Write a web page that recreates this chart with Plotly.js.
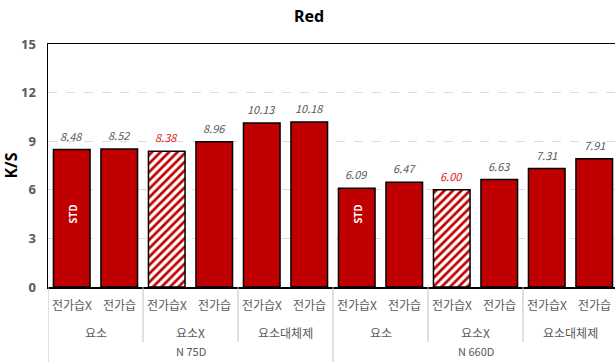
<!DOCTYPE html>
<html><head><meta charset="utf-8">
<script src="https://cdn.plot.ly/plotly-3.0.1.min.js"></script>
<style>html,body{margin:0;padding:0;overflow:hidden;background:#fff}</style>
</head><body><div id="chart"></div>
<script>
const subLabels = ['전가습X','전가습','전가습X','전가습','전가습X','전가습','전가습X','전가습','전가습X','전가습','전가습X','전가습'];
const groupLabels = ['요소','요소X','요소대체제','요소','요소X','요소대체제'];
const outerLabels = ['N 75D','N 660D'];
const values = [8.48, 8.52, 8.38, 8.96, 10.13, 10.18, 6.09, 6.47, 6.00, 6.63, 7.31, 7.91];
const hatched = [false,false,true,false,false,false,false,false,true,false,false,false];
const stdIndex = [0, 6];
const stdLabel = 'STD';

const RED = '#C00000';
const GRAY = '#595959';
const xs = values.map((v,i)=>i);
const fontKR = '"Noto Sans CJK KR", "Noto Sans", sans-serif';

const trace = {
  type:'bar', x: xs, y: values, width: 0.77,
  marker:{
    color: RED,
    line:{color:'#000', width:1.5},
    pattern:{
      shape: hatched.map(h=>h?'/':''),
      fgcolor: RED, bgcolor:'#ffffff', size:6, solidity:0.45, fillmode:'replace'
    }
  },
  hoverinfo:'skip'
};

const annotations = [];
values.forEach((v,i)=>{
  annotations.push({x:i, y:v, xref:'x', yref:'y', yanchor:'bottom', yshift:4, showarrow:false,
    text:'<i>'+v.toFixed(2)+'</i>', font:{family:fontKR, size:11, color: hatched[i]?'#E02020':GRAY}});
});
stdIndex.forEach(i=>{
  annotations.push({x:i, y:4.5, xref:'x', yref:'y', showarrow:false, textangle:-90,
    text:'<b>'+stdLabel+'</b>', font:{family:fontKR, size:10, color:'#ffffff'}});
});
const ph = 243;
subLabels.forEach((s,i)=>{
  annotations.push({x:i, y:-(304-287)/ph, xref:'x', yref:'paper', showarrow:false, yanchor:'middle',
    text:s, font:{family:fontKR, size:12, color:GRAY}});
});
groupLabels.forEach((g,k)=>{
  annotations.push({x:2*k+0.5, y:-(332-287)/ph, xref:'x', yref:'paper', showarrow:false, yanchor:'middle',
    text:g, font:{family:fontKR, size:12, color:GRAY}});
});
outerLabels.forEach((o,k)=>{
  annotations.push({x:6*k+2.5, y:-(361-287)/ph, xref:'x', yref:'paper', showarrow:false, yanchor:'bottom', yshift:0,
    text:o, font:{family:fontKR, size:11, color:GRAY}});
});

const shapes = [];
[1.5,3.5,7.5,9.5].forEach(x=>{
  shapes.push({type:'line', xref:'x', yref:'paper', x0:x, x1:x, y0:0, y1:-(342-287)/ph, line:{color:'#bfbfbf', width:1}});
});
[-0.5,5.5,11.5].forEach(x=>{
  shapes.push({type:'line', xref:'x', yref:'paper', x0:x, x1:x, y0:0, y1:-0.4, line:{color:'#bfbfbf', width:1}});
});

const layout = {
  width:618, height:362,
  margin:{l:48, r:0, t:44, b:75},
  paper_bgcolor:'#fff', plot_bgcolor:'#fff',
  title:{text:'<b>Red</b>', x:0.5, xanchor:'center', y:0.955, yanchor:'middle', font:{family:'"Noto Sans", sans-serif', size:16, color:'#000'}},
  showlegend:false,
  xaxis:{type:'linear', range:[-0.5,11.5], showticklabels:false, showgrid:false, zeroline:false,
    showline:true, linecolor:'#000', linewidth:1.5, mirror:true, ticks:'', fixedrange:true},
  yaxis:{range:[0,15], dtick:3, tick0:0, showgrid:true, gridcolor:'#dcdcdc', griddash:'dash', gridwidth:1,
    zeroline:false, showline:true, linecolor:'#000', linewidth:1.5, ticks:'', ticklabelstandoff:8,
    tickfont:{family:'"Noto Sans", sans-serif', size:13, color:GRAY, weight:'bold'},
    title:{text:'<b>K/S</b>', font:{family:'"Noto Sans", sans-serif', size:16, color:'#000'}, standoff:8}},
  annotations, shapes
};
Plotly.newPlot('chart',[trace],layout,{displayModeBar:false, staticPlot:true});
</script></body></html>
